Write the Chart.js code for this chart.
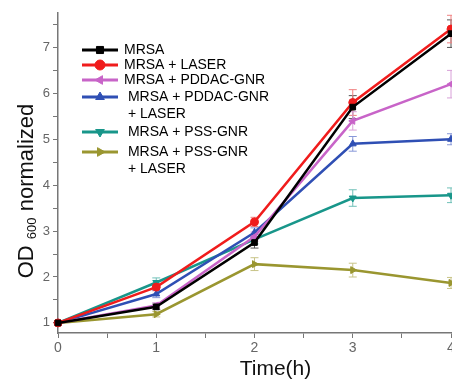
<!DOCTYPE html>
<html lang="en">
    <head>
        <meta charset="UTF-8" />
        <title>OD600 growth</title>
        <script src="https://cdn.jsdelivr.net/npm/chart.js"></script>
        <style>
            html, body { margin: 0; padding: 0; background: #fff; }
            #wrap { width: 452px; height: 380px; }
        </style>
    </head>
    <body>
        <div id="wrap"><canvas id="odChart"></canvas></div>
        <script>
            // time points (h)
            const times = [0, 1, 2, 3, 4];

            const seriesLabels = [
                "MRSA",
                "MRSA + LASER",
                "MRSA + PDDAC-GNR",
                " MRSA + PDDAC-GNR\n + LASER",
                " MRSA + PSS-GNR",
                " MRSA + PSS-GNR\n + LASER",
            ];

            const mrsa = [1, 1.35, 2.75, 5.7, 7.3];
            const mrsaLaser = [1, 1.78, 3.2, 5.8, 7.4];
            const pddac = [1, 1.38, 2.88, 5.4, 6.2];
            const pddacLaser = [1, 1.63, 2.97, 4.9, 5.0];
            const pss = [1, 1.88, 2.82, 3.72, 3.78];
            const pssLaser = [1, 1.19, 2.28, 2.15, 1.87];

            // error bar half heights
            const mrsaErr = [0.04, 0.06, 0.12, 0.25, 0.3];
            const mrsaLaserErr = [0.04, 0.08, 0.1, 0.28, 0.3];
            const pddacErr = [0.04, 0.06, 0.1, 0.2, 0.3];
            const pddacLaserErr = [0.04, 0.08, 0.1, 0.16, 0.12];
            const pssErr = [0.04, 0.1, 0.1, 0.18, 0.16];
            const pssLaserErr = [0.04, 0.06, 0.14, 0.15, 0.12];

            const yTickLabels = ["1", "2", "3", "4", "5", "6", "7"];

            const values = [mrsa, mrsaLaser, pddac, pddacLaser, pss, pssLaser];
            const errors = [mrsaErr, mrsaLaserErr, pddacErr, pddacLaserErr, pssErr, pssLaserErr];
            const colors = ["#000000", "#f01c1c", "#c864c8", "#2f4fb4", "#18968a", "#9a9630"];
            const errColors = ["#555555", "#f08080", "#d8a0d8", "#8898d8", "#70c0b8", "#c8c488"];
            const styles = ["rect", "circle", "triangle", "triangle", "triangle", "triangle"];
            const rotations = [0, 0, -90, 0, 180, 90];

            const FONT = "'Liberation Sans', Arial, sans-serif";

            const datasets = values.map((vals, k) => ({
                label: seriesLabels[k],
                data: times.map((t, i) => ({ x: t, y: vals[i] })),
                borderColor: colors[k],
                backgroundColor: colors[k],
                borderWidth: 2.5,
                pointStyle: styles[k],
                pointRotation: rotations[k],
                pointRadius: 4,
                pointBorderWidth: 1,
                tension: 0,
                clip: false,
            }));

            const errorBars = {
                id: "errorBars",
                beforeDatasetsDraw(chart) {
                    const { ctx, scales } = chart;
                    ctx.save();
                    ctx.lineWidth = 1;
                    errors.forEach((errs, k) => {
                        ctx.strokeStyle = errColors[k];
                        times.forEach((t, i) => {
                            const x = scales.x.getPixelForValue(t);
                            const y1 = scales.y.getPixelForValue(values[k][i] + errs[i]);
                            const y2 = scales.y.getPixelForValue(values[k][i] - errs[i]);
                            ctx.beginPath();
                            ctx.moveTo(x, y1); ctx.lineTo(x, y2);
                            ctx.moveTo(x - 4, y1); ctx.lineTo(x + 4, y1);
                            ctx.moveTo(x - 4, y2); ctx.lineTo(x + 4, y2);
                            ctx.stroke();
                        });
                    });
                    ctx.restore();
                },
            };

            const legendAndTitles = {
                id: "legendAndTitles",
                afterDraw(chart) {
                    const { ctx, chartArea } = chart;
                    ctx.save();
                    // legend
                    const rows = [50, 65, 80, 97, 132, 152];
                    ctx.font = "14px " + FONT;
                    ctx.textBaseline = "middle";
                    rows.forEach((ry, k) => {
                        ctx.strokeStyle = colors[k];
                        ctx.lineWidth = 3;
                        ctx.beginPath();
                        ctx.moveTo(82, ry); ctx.lineTo(118, ry);
                        ctx.stroke();
                        ctx.fillStyle = colors[k];
                        ctx.strokeStyle = colors[k];
                        ctx.lineWidth = 1;
                        Chart.helpers.drawPoint(ctx, { pointStyle: styles[k], rotation: rotations[k], radius: 5, borderWidth: 1 }, 100, ry);
                        ctx.fillStyle = "#000";
                        seriesLabels[k].split("\n").forEach((line, j) => {
                            ctx.fillText(line, 124, ry + j * 17);
                        });
                    });

                    // x title
                    ctx.fillStyle = "#111";
                    ctx.font = "21px " + FONT;
                    ctx.textAlign = "center";
                    ctx.textBaseline = "alphabetic";
                    ctx.fillText("Time(h)", (chartArea.left + chartArea.right) / 2 + 21, 375);

                    // y title with subscript
                    const big = "22px " + FONT, small = "13px " + FONT;
                    ctx.font = big;
                    const w1 = ctx.measureText("OD ").width;
                    const w3 = ctx.measureText(" normalized").width;
                    ctx.font = small;
                    const w2 = ctx.measureText("600").width;
                    const total = w1 + w2 + w3;
                    const cy = (chartArea.top + chartArea.bottom) / 2 + 18;
                    ctx.translate(33, cy);
                    ctx.rotate(-Math.PI / 2);
                    ctx.textAlign = "left";
                    let x0 = -total / 2;
                    ctx.font = big;
                    ctx.fillText("OD ", x0, 0);
                    ctx.font = small;
                    ctx.fillText("600", x0 + w1, 3);
                    ctx.font = big;
                    ctx.fillText(" normalized", x0 + w1 + w2, 0);
                    ctx.restore();
                },
            };

            const ctx = document.getElementById("odChart").getContext("2d");
            const chart = new Chart(ctx, {
                type: "line",
                data: { datasets: datasets },
                options: {
                    responsive: true,
                    maintainAspectRatio: false,
                    animation: false,
                    layout: { autoPadding: false, padding: { left: 8, top: 13, right: 1, bottom: 17 } },
                    plugins: { legend: { display: false }, tooltip: { enabled: false } },
                    scales: {
                        x: {
                            type: "linear",
                            min: 0,
                            max: 4,
                            grid: { drawOnChartArea: false, tickLength: 5, color: "#777" },
                            border: { color: "#777", width: 1.5 },
                            ticks: {
                                stepSize: 0.5,
                                color: "#666",
                                font: { family: FONT, size: 14 },
                                padding: 2,
                                callback: (v) => (Number.isInteger(v) ? String(v) : ""),
                            },
                            afterFit: (s) => {
                                s.height = 30;
                                s.paddingRight = 0;
                                s.paddingLeft = 0;
                            },
                        },
                        y: {
                            type: "linear",
                            min: 0.78,
                            max: 7.75,
                            grid: { drawOnChartArea: false, tickLength: 5, color: "#777" },
                            border: { color: "#777", width: 1.5 },
                            afterBuildTicks: (s) => {
                                s.ticks = s.ticks.filter((t) => Number.isInteger(t.value * 2));
                            },
                            ticks: {
                                stepSize: 0.5,
                                includeBounds: false,
                                color: "#666",
                                font: { family: FONT, size: 13 },
                                padding: 3,
                                callback: (v) => (Number.isInteger(v) ? yTickLabels[v - 1] : ""),
                            },
                            afterFit: (s) => { s.width = 50; },
                        },
                    },
                },
                plugins: [errorBars, legendAndTitles],
            });
        </script>
    </body>
</html>
